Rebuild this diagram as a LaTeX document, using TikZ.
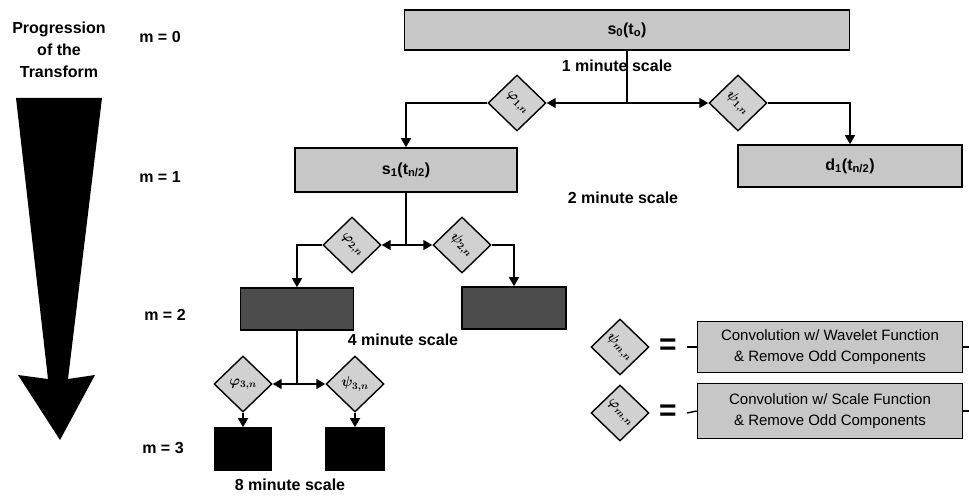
\documentclass[tikz,border=0pt]{standalone}
\usepackage{fontspec}
\setmainfont{Liberation Sans}
\usetikzlibrary{shapes.geometric,arrows.meta}

\begin{document}
\begin{tikzpicture}[x=1pt,y=-1pt,
    every node/.style={font=\bfseries\fontsize{16}{22}\selectfont},
    tbox/.style={draw,line width=1.6pt,inner sep=0pt,fill=black!22},
    filt/.style={diamond,draw,line width=1.4pt,fill=black!18,inner sep=0pt,
        minimum width=58pt,minimum height=56pt},
    flab/.style={inner sep=0pt,rotate=-45,font=\boldmath\fontsize{14}{14}\selectfont},
    link/.style={line width=1.4pt},
    arr/.style={link,-{Triangle[length=9pt,width=10pt]}}]
    \useasboundingbox (0,0) rectangle (969,497);

    % progression arrow
    \fill (16,98) -- (102,98) -- (68,379) -- (95,375) -- (60,440)
        -- (18,375) -- (48,379) -- cycle;
    \node[align=center] (prog) at (59,50) {Progression\\of the\\Transform};

    \node (m0) at (160,37) {m = 0};
    \node (m1) at (160,177) {m = 1};
    \node (m2) at (165,315) {m = 2};
    \node (m3) at (163,448) {m = 3};

    % m = 0
    \node[tbox,minimum width=445pt,minimum height=40pt] (s0) at (627,30)
        {s\textsubscript{0}(t\textsubscript{o})};
    \node (sc1) at (617,66) {1 minute scale};
    \coordinate (j1) at (627,103);
    \node[filt] (phi1) at (517,103) {};
    \node[flab] (phi1t) at (phi1) {$\varphi_{1,n}$};
    \node[filt] (psi1) at (738,103) {};
    \node[flab] (psi1t) at (psi1) {$\psi_{1,n}$};

    % m = 1
    \node[tbox,minimum width=222pt,minimum height=44pt] (s1) at (406,170)
        {s\textsubscript{1}(t\textsubscript{n/2})};
    \node[tbox,minimum width=224pt,minimum height=42pt] (d1) at (850,166)
        {d\textsubscript{1}(t\textsubscript{n/2})};
    \node (sc2) at (623,198) {2 minute scale};
    \coordinate (j2) at (406,245);
    \node[filt] (phi2) at (352,245) {};
    \node[flab] (phi2t) at (phi2) {$\varphi_{2,n}$};
    \node[filt] (psi2) at (462,245) {};
    \node[flab] (psi2t) at (psi2) {$\psi_{2,n}$};

    % m = 2
    \node[tbox,fill=black!70,minimum width=113pt,minimum height=42pt] (a2) at (297,309) {};
    \node[tbox,fill=black!70,minimum width=104pt,minimum height=42pt] (b2) at (514,308) {};
    \node (sc4) at (403,340) {4 minute scale};
    \coordinate (j3) at (297,384);
    \node[filt] (phi3) at (243,384) {};
    \node[flab,rotate=45] (phi3t) at (phi3) {$\varphi_{3,n}$};
    \node[filt] (psi3) at (355,384) {};
    \node[flab,rotate=45] (psi3t) at (psi3) {$\psi_{3,n}$};

    % m = 3
    \node[tbox,fill=black,minimum width=57pt,minimum height=42pt] (a3) at (243,449) {};
    \node[tbox,fill=black,minimum width=58pt,minimum height=42pt] (b3) at (355,449) {};
    \node (sc8) at (290,485) {8 minute scale};

    \draw[link] (s0) -- (j1);
    \draw[arr] (j1) -- (phi1.east);
    \draw[arr] (j1) -- (psi1.west);
    \draw[arr] (phi1.west) -| (s1.north);
    \draw[arr] (psi1.east) -| (d1.north);

    \draw[link] (s1) -- (j2);
    \draw[arr] (j2) -- (phi2.east);
    \draw[arr] (j2) -- (psi2.west);
    \draw[arr] (phi2.west) -| (a2.north);
    \draw[arr] (psi2.east) -| (b2.north);

    \draw[link] (a2) -- (j3);
    \draw[arr] (j3) -- (phi3.east);
    \draw[arr] (j3) -- (psi3.west);
    \draw[arr] (phi3) -- (a3);
    \draw[arr] (psi3) -- (b3);

    % legend
    \node[filt] (lpsi) at (620,347) {};
    \node[flab] (lpsit) at (lpsi) {$\psi_{m,n}$};
    \node[filt] (lphi) at (620,413) {};
    \node[flab] (lphit) at (lphi) {$\varphi_{m,n}$};
    \node[font=\bfseries\fontsize{30}{30}\selectfont] (eq1) at (668,347) {=};
    \node[font=\bfseries\fontsize{30}{30}\selectfont] (eq2) at (668,413) {=};
    \node[tbox,minimum width=265pt,minimum height=51pt,align=center,
        font=\fontsize{15}{21}\selectfont] (wav) at (830,347)
        {Convolution w/ Wavelet Function\\\& Remove Odd Components};
    \node[tbox,minimum width=265pt,minimum height=55pt,align=center,
        font=\fontsize{15}{21}\selectfont] (scl) at (830,411)
        {Convolution w/ Scale Function\\\& Remove Odd Components};
    \coordinate (w1) at (687,347);
    \coordinate (w2) at (687,413);
    \coordinate (e1) at (969,347);
    \coordinate (e2) at (969,411);
    \draw[link] (w1) -- (wav.west);
    \draw[link] (w2) -- (scl.west);
    \draw[link] (wav.east) -- (e1);
    \draw[link] (scl.east) -- (e2);
\end{tikzpicture}
\end{document}
